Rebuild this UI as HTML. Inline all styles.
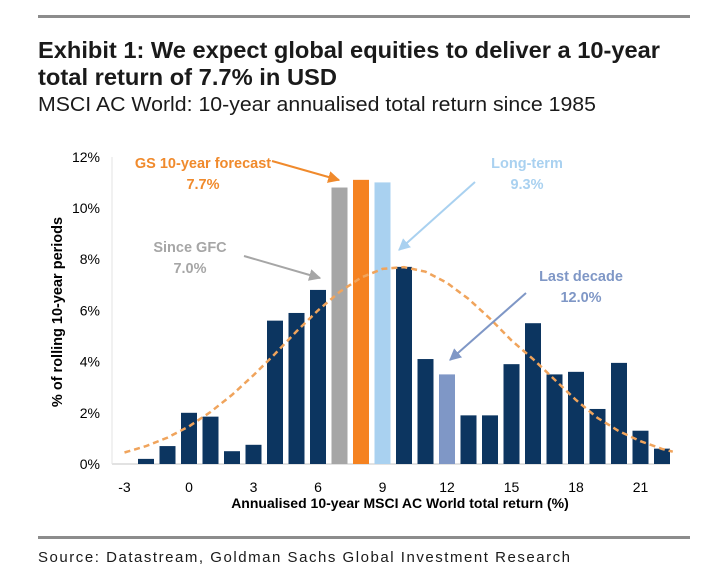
<!DOCTYPE html>
<html><head><meta charset="utf-8"><style>
html,body{margin:0;padding:0;background:#fff;}
svg{display:block;font-family:"Liberation Sans",Arial,sans-serif;}
</style></head><body>
<svg id="chart" width="701" height="574" viewBox="0 0 701 574" xmlns="http://www.w3.org/2000/svg">
<defs>
<marker id="arO" viewBox="0 0 10 10" refX="9" refY="5" markerWidth="6" markerHeight="6" orient="auto"><path d="M0,0L10,5L0,10z" fill="#f08a2c"/></marker>
<marker id="arG" viewBox="0 0 10 10" refX="9" refY="5" markerWidth="6" markerHeight="6" orient="auto"><path d="M0,0L10,5L0,10z" fill="#a6a6a6"/></marker>
<marker id="arL" viewBox="0 0 10 10" refX="9" refY="5" markerWidth="6" markerHeight="6" orient="auto"><path d="M0,0L10,5L0,10z" fill="#a9d1f0"/></marker>
<marker id="arS" viewBox="0 0 10 10" refX="9" refY="5" markerWidth="6" markerHeight="6" orient="auto"><path d="M0,0L10,5L0,10z" fill="#7f97c6"/></marker>
</defs>
<rect x="38" y="15" width="652" height="3" fill="#8c8c8c"/>
<text x="38" y="58" font-size="23" font-weight="bold" fill="#1a1a1a" textLength="622" lengthAdjust="spacingAndGlyphs">Exhibit 1: We expect global equities to deliver a 10-year</text>
<text x="38" y="85" font-size="23" font-weight="bold" fill="#1a1a1a" textLength="299" lengthAdjust="spacingAndGlyphs">total return of 7.7% in USD</text>
<text x="38" y="111" font-size="20" fill="#1a1a1a" textLength="558" lengthAdjust="spacingAndGlyphs">MSCI AC World: 10-year annualised total return since 1985</text>
<g id="plot"></g>
<text x="400" y="508" font-size="14" font-weight="bold" text-anchor="middle" fill="#000">Annualised 10-year MSCI AC World total return (%)</text>
<text transform="translate(62,312) rotate(-90)" font-size="14.5" font-weight="bold" text-anchor="middle" fill="#000">% of rolling 10-year periods</text>
<g>
<text x="203" y="168" font-size="14.5" font-weight="bold" fill="#f08a2c" text-anchor="middle">GS 10-year forecast</text>
<text x="203" y="189" font-size="14.5" font-weight="bold" fill="#f08a2c" text-anchor="middle">7.7%</text>
<line x1="272" y1="161" x2="339" y2="180" stroke="#f08a2c" stroke-width="2" marker-end="url(#arO)"/>
</g>
<g>
<text x="190" y="252" font-size="14.5" font-weight="bold" fill="#a6a6a6" text-anchor="middle">Since GFC</text>
<text x="190" y="273" font-size="14.5" font-weight="bold" fill="#a6a6a6" text-anchor="middle">7.0%</text>
<line x1="244" y1="256" x2="320" y2="278" stroke="#a6a6a6" stroke-width="2" marker-end="url(#arG)"/>
</g>
<g>
<text x="527" y="168" font-size="14.5" font-weight="bold" fill="#a9d1f0" text-anchor="middle">Long-term</text>
<text x="527" y="189" font-size="14.5" font-weight="bold" fill="#a9d1f0" text-anchor="middle">9.3%</text>
<line x1="475" y1="182" x2="399" y2="250" stroke="#a9d1f0" stroke-width="2" marker-end="url(#arL)"/>
</g>
<g>
<text x="581" y="281" font-size="14.5" font-weight="bold" fill="#7f97c6" text-anchor="middle">Last decade</text>
<text x="581" y="302" font-size="14.5" font-weight="bold" fill="#7f97c6" text-anchor="middle">12.0%</text>
<line x1="526" y1="293" x2="450" y2="360" stroke="#7f97c6" stroke-width="2" marker-end="url(#arS)"/>
</g>
<rect x="38" y="536" width="652" height="3" fill="#8c8c8c"/>
<text x="38" y="562" font-size="15" fill="#1a1a1a" textLength="532" lengthAdjust="spacing">Source: Datastream, Goldman Sachs Global Investment Research</text>
</svg>
<script>
const categories = [-2,-1,0,1,2,3,4,5,6,7,8,9,10,11,12,13,14,15,16,17,18,19,20,21,22];
const shares = [0.2,0.7,2.0,1.85,0.5,0.75,5.6,5.9,6.8,10.8,11.1,11.0,7.7,4.1,3.5,1.9,1.9,3.9,5.5,3.5,3.6,2.15,3.95,1.3,0.6];
const highlights = {7:'#a6a6a6',8:'#f58220',9:'#a9d1f0',12:'#7f97c6'};
const curveX = [-3,-2,-1,0,1,2,3,4,5,6,7,8,9,10,11,12,13,14,15,16,17,18,19,20,21,22,22.5];
const curveY = [0.45,0.7,1.03,1.47,2.03,2.7,3.47,4.3,5.18,6.0,6.72,7.28,7.62,7.69,7.51,7.08,6.45,5.68,4.83,4.1,3.3,2.5,1.8,1.28,0.89,0.59,0.48];
const yTicks = [0,2,4,6,8,10,12];
const xTicks = [-3,0,3,6,9,12,15,18,21];
const NS='http://www.w3.org/2000/svg';
const g=document.getElementById('plot');
const xs=v=>189+v*21.5;
const ys=v=>464-v*25.6;
function mk(t,a){const e=document.createElementNS(NS,t);for(const k in a)e.setAttribute(k,a[k]);g.appendChild(e);return e;}
const ax=mk('line',{x1:112,y1:464,x2:670,y2:464,stroke:'#d9d9d9','stroke-width':1.5});


const ay=mk('line',{x1:112,y1:157,x2:112,y2:464,stroke:'#e3e3e3','stroke-width':1});


yTicks.forEach(t=>{
  const tl=mk('text',{x:100,y:ys(t)+5,'font-size':14,'text-anchor':'end',fill:'#000'});
  tl.textContent=t+'%';
  
  
});
xTicks.forEach(t=>{
  const tl=mk('text',{x:xs(t),y:492,'font-size':14,'text-anchor':'middle',fill:'#000'});
  tl.textContent=t;
  
  
});
categories.forEach((c,i)=>{
  const b=mk('rect',{x:xs(c)-8,y:ys(shares[i]),width:16,height:ys(0)-ys(shares[i]),fill:highlights[c]||'#0c3560'});
  
  
});
const d=curveX.map((x,i)=>(i?'L':'M')+xs(x).toFixed(1)+','+ys(curveY[i]).toFixed(1)).join('');
const cv=mk('path',{d:d,fill:'none',stroke:'#f0a45c','stroke-width':2.5,'stroke-dasharray':'6,4'});


</script>
</body></html>
